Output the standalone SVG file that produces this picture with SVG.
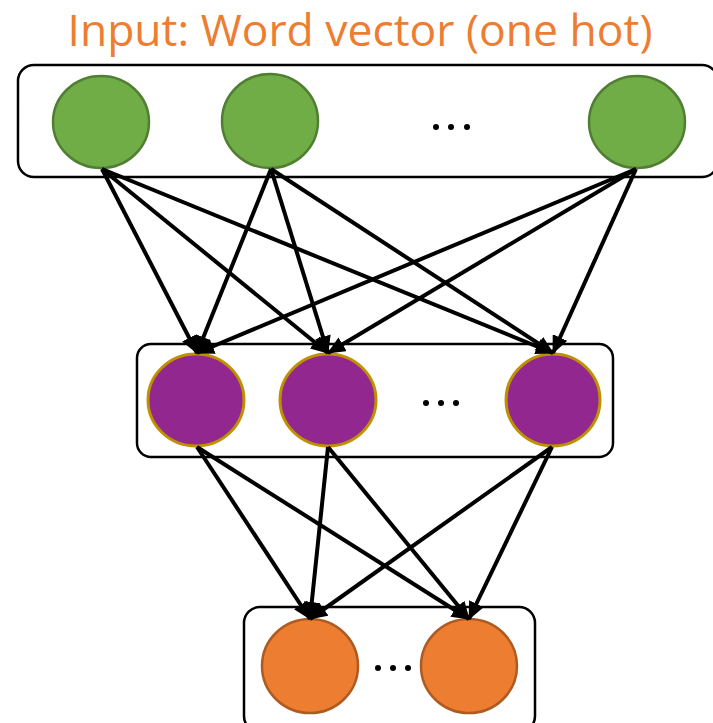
<svg xmlns="http://www.w3.org/2000/svg" width="713" height="723" viewBox="0 0 713 723">
  <defs>
    <marker id="arrow" markerUnits="userSpaceOnUse" markerWidth="18" markerHeight="16" refX="17" refY="8" orient="auto">
      <path d="M0,0 L18,8 L0,16 z" fill="#000"/>
    </marker>
  </defs>
  <style>
    .layer { fill: #fff; stroke: #000; stroke-width: 2.5; }
    .in { fill: #70AD47; stroke: #507E32; stroke-width: 2.5; }
    .hid { fill: #92278F; stroke: #BF9000; stroke-width: 3; }
    .out { fill: #ED7D31; stroke: #AE5A21; stroke-width: 2.5; }
    .dot { fill: #000; }
    .edge { stroke: #000; stroke-width: 4; fill: none; marker-end: url(#arrow); }
    .title { font-family: "Open Sans", "Liberation Sans", sans-serif; font-size: 43px; fill: #ED7D31; }
  </style>

  <rect width="713" height="723" fill="#fff"/>

  <text class="title" x="360" y="46" text-anchor="middle" textLength="585" lengthAdjust="spacingAndGlyphs">Input: Word vector (one hot)</text>

  <!-- input layer -->
  <g id="input-layer">
    <rect class="layer" x="18" y="65" width="700" height="112" rx="16"/>
    <g id="in1"><ellipse class="in" cx="101" cy="122" rx="48" ry="46"/></g>
    <g id="in2"><ellipse class="in" cx="270" cy="121" rx="48" ry="47"/></g>
    <g id="in-dots">
      <circle class="dot" cx="436" cy="127" r="3"/>
      <circle class="dot" cx="451" cy="127" r="3"/>
      <circle class="dot" cx="467" cy="127" r="3"/>
    </g>
    <g id="in3"><ellipse class="in" cx="637" cy="122" rx="48" ry="46"/></g>
  </g>

  <!-- hidden layer -->
  <g id="hidden-layer">
    <rect class="layer" x="137" y="344" width="476" height="113" rx="14"/>
    <g id="h1"><ellipse class="hid" cx="196" cy="400" rx="48" ry="46"/></g>
    <g id="h2"><ellipse class="hid" cx="328" cy="400" rx="48" ry="46"/></g>
    <g id="h-dots">
      <circle class="dot" cx="426" cy="403" r="3"/>
      <circle class="dot" cx="441" cy="403" r="3"/>
      <circle class="dot" cx="456" cy="403" r="3"/>
    </g>
    <g id="h3"><ellipse class="hid" cx="553" cy="400" rx="47" ry="46"/></g>
  </g>

  <!-- output layer -->
  <g id="output-layer">
    <rect class="layer" x="244" y="607" width="291" height="125" rx="16"/>
    <g id="o1"><ellipse class="out" cx="310" cy="666" rx="48" ry="47"/></g>
    <g id="o-dots">
      <circle class="dot" cx="378" cy="668" r="3"/>
      <circle class="dot" cx="393" cy="668" r="3"/>
      <circle class="dot" cx="408" cy="668" r="3"/>
    </g>
    <g id="o2"><ellipse class="out" cx="469" cy="666" rx="48" ry="47"/></g>
  </g>

  <!-- connections -->
  <g id="edges">
    <line class="edge" x1="102" y1="169" x2="197" y2="353"/>
    <line class="edge" x1="102" y1="169" x2="328" y2="353"/>
    <line class="edge" x1="102" y1="169" x2="553" y2="353"/>
    <line class="edge" x1="271" y1="169" x2="197" y2="353"/>
    <line class="edge" x1="271" y1="169" x2="328" y2="353"/>
    <line class="edge" x1="271" y1="169" x2="553" y2="353"/>
    <line class="edge" x1="636" y1="169" x2="197" y2="353"/>
    <line class="edge" x1="636" y1="169" x2="328" y2="353"/>
    <line class="edge" x1="636" y1="169" x2="553" y2="353"/>

    <line class="edge" x1="197" y1="447" x2="310" y2="619"/>
    <line class="edge" x1="197" y1="447" x2="469" y2="619"/>
    <line class="edge" x1="328" y1="447" x2="310" y2="619"/>
    <line class="edge" x1="328" y1="447" x2="469" y2="619"/>
    <line class="edge" x1="552" y1="447" x2="310" y2="619"/>
    <line class="edge" x1="552" y1="447" x2="469" y2="619"/>
  </g>
</svg>
